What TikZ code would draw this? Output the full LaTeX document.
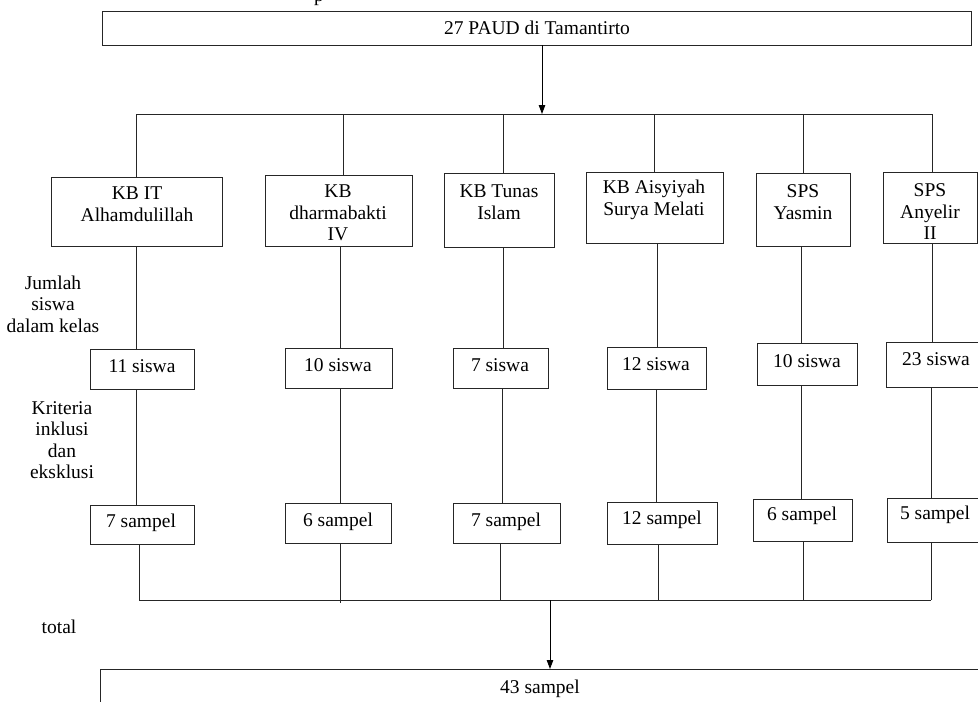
\documentclass[tikz,border=0pt]{standalone}
\usepackage{fontspec}
\setmainfont{Liberation Serif}
\usetikzlibrary{arrows.meta}
\newcommand\mybox[5]{\node[box, minimum width={(#4-#2)*1pt}, minimum height={(#5-#3)*1pt}] (#1) at ({(#2+#4)/2},{(#3+#5)/2}) {};}
\begin{document}
\begin{tikzpicture}[x=1pt,y=-1pt,
  box/.style={draw=black!85, line width=0.8pt, inner sep=0pt, outer sep=0pt},
  lbl/.style={font=\fontsize{19.5}{21.5}\selectfont, align=center, inner sep=0pt},
  ln/.style={draw=black!85, line width=0.8pt},
  arr/.style={draw=black, line width=0.9pt, -{Triangle[length=9pt,width=6.5pt]}}]
\useasboundingbox (0,0) rectangle (978,702);
\clip (0,0) rectangle (978,702);
\fill[white] (0,0) rectangle (978,702);

% cut-off title fragment
\node[lbl, anchor=base] (tp) at (319,1) {p};

% boxes
\mybox{top}{102}{11}{971}{45}
\mybox{b1}{51}{177}{222}{246}
\mybox{b2}{265}{175}{412}{246}
\mybox{b3}{444}{173}{554}{247}
\mybox{b4}{586}{172}{723}{243}
\mybox{b5}{756}{173}{850}{246}
\mybox{b6}{883}{172}{977}{243}
\mybox{s1}{90}{349}{194}{389}
\mybox{s2}{285}{348}{392}{388}
\mybox{s3}{453}{348}{548}{388}
\mybox{s4}{607}{347}{706}{389}
\mybox{s5}{757}{343}{857}{385}
\mybox{s6}{886}{342}{992}{387}
\mybox{p1}{90}{505}{194}{544}
\mybox{p2}{285}{503}{391}{543}
\mybox{p3}{453}{503}{560}{543}
\mybox{p4}{607}{502}{717}{544}
\mybox{p5}{753}{499}{852}{541}
\mybox{p6}{887}{498}{992}{542}
\mybox{bot}{100}{669}{992}{730}

% texts
\node[lbl] (ttop) at (537,28) {27 PAUD di Tamantirto};
\node[lbl] (tb1) at (137,204) {KB IT\\Alhamdulillah};
\node[lbl] (tb2) at (338,213) {KB\\dharmabakti\\IV};
\node[lbl] (tb3) at (499,202) {KB Tunas\\Islam};
\node[lbl] (tb4) at (654,200) {KB Aisyiyah\\Surya Melati};
\node[lbl] (tb5) at (803,202) {SPS\\Yasmin};
\node[lbl] (tb6) at (930,212) {SPS\\Anyelir\\II};
\node[lbl] (ts1) at (142,366) {11 siswa};
\node[lbl] (ts2) at (338,365) {10 siswa};
\node[lbl] (ts3) at (500,365) {7 siswa};
\node[lbl] (ts4) at (656,364) {12 siswa};
\node[lbl] (ts5) at (807,361) {10 siswa};
\node[lbl] (ts6) at (936,359) {23 siswa};
\node[lbl] (tp1) at (141,523) {7 sampel};
\node[lbl] (tp2) at (338,522) {6 sampel};
\node[lbl] (tp3) at (506,522) {7 sampel};
\node[lbl] (tp4) at (662,520) {12 sampel};
\node[lbl] (tp5) at (802,516) {6 sampel};
\node[lbl] (tp6) at (935,515) {5 sampel};
\node[lbl] (tbot) at (540,689) {43 sampel};
\node[lbl] (lj) at (53,304) {Jumlah\\siswa\\dalam kelas};
\node[lbl] (lk) at (62,440) {Kriteria\\inklusi\\dan\\eksklusi};
\node[lbl] (lt) at (59,627) {total};

% top distribution
\coordinate (ha) at (542,114);
\coordinate (d1) at (136,114);
\coordinate (d2) at (343,114);
\coordinate (d3) at (503,114);
\coordinate (d4) at (654,114);
\coordinate (d5) at (803,114);
\coordinate (d6) at (932,114);
\draw[arr] (top.south -| ha) -- (ha);
\draw[ln] (d1) -- (d6);
\draw[ln] (d1) -- (b1.north -| d1);
\draw[ln] (d2) -- (b2.north -| d2);
\draw[ln] (d3) -- (b3.north -| d3);
\draw[ln] (d4) -- (b4.north -| d4);
\draw[ln] (d5) -- (b5.north -| d5);
\draw[ln] (d6) -- (b6.north -| d6);

% row 1 to row 2
\coordinate (e1) at (136,0);
\coordinate (e2) at (340,0);
\coordinate (e3) at (503,0);
\coordinate (e4) at (657,0);
\coordinate (e5) at (801,0);
\coordinate (e6) at (932,0);
\draw[ln] (b1.south -| e1) -- (s1.north -| e1);
\draw[ln] (b2.south -| e2) -- (s2.north -| e2);
\draw[ln] (b3.south -| e3) -- (s3.north -| e3);
\draw[ln] (b4.south -| e4) -- (s4.north -| e4);
\draw[ln] (b5.south -| e5) -- (s5.north -| e5);
\draw[ln] (b6.south -| e6) -- (s6.north -| e6);

% row 2 to row 3
\coordinate (f1) at (136,0);
\coordinate (f2) at (340,0);
\coordinate (f3) at (502,0);
\coordinate (f4) at (656,0);
\coordinate (f5) at (801,0);
\coordinate (f6) at (931,0);
\draw[ln] (s1.south -| f1) -- (p1.north -| f1);
\draw[ln] (s2.south -| f2) -- (p2.north -| f2);
\draw[ln] (s3.south -| f3) -- (p3.north -| f3);
\draw[ln] (s4.south -| f4) -- (p4.north -| f4);
\draw[ln] (s5.south -| f5) -- (p5.north -| f5);
\draw[ln] (s6.south -| f6) -- (p6.north -| f6);

% row 3 to total
\coordinate (g1) at (139,600);
\coordinate (g2) at (340,603);
\coordinate (g3) at (500,600);
\coordinate (g4) at (658,600);
\coordinate (g5) at (803,600);
\coordinate (g6) at (931,600);
\coordinate (gm) at (550,600);
\draw[ln] (p1.south -| g1) -- (g1);
\draw[ln] (p2.south -| g2) -- (g2);
\draw[ln] (p3.south -| g3) -- (g3);
\draw[ln] (p4.south -| g4) -- (g4);
\draw[ln] (p5.south -| g5) -- (g5);
\draw[ln] (p6.south -| g6) -- (g6);
\draw[ln] (g1) -- (g6);
\draw[arr] (gm) -- (bot.north -| gm);
\end{tikzpicture}
\end{document}
